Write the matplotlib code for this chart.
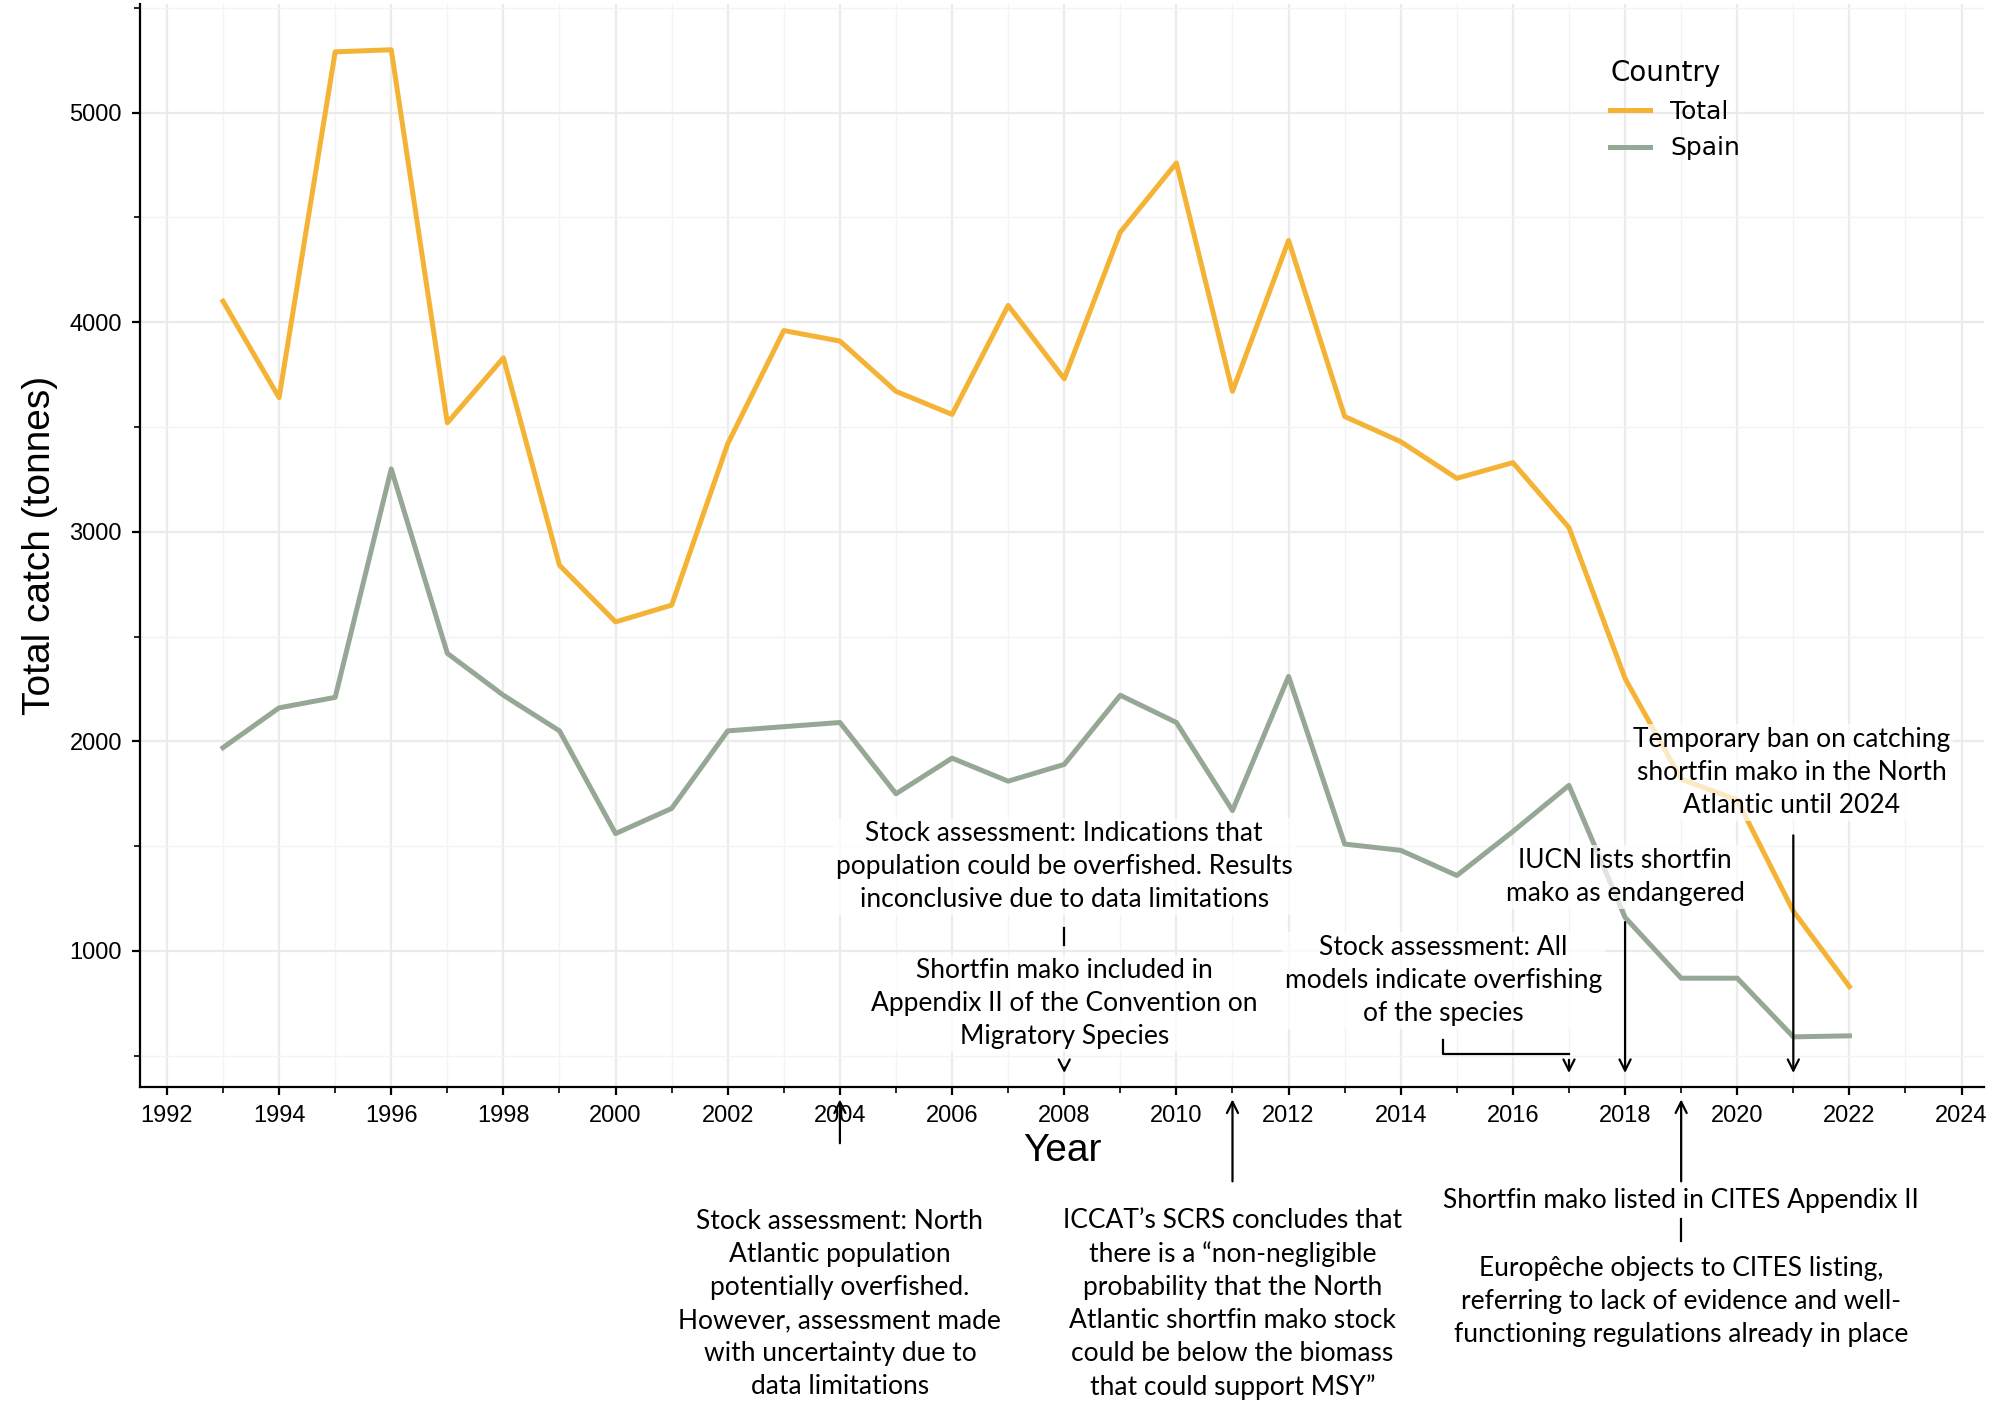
import numpy as np
import matplotlib.pyplot as plt
from matplotlib.ticker import MultipleLocator

#%% -- data --
years = list(range(1993, 2023))
total = [4100, 3640, 5290, 5300, 3520, 3830, 2840, 2570, 2650, 3420,
         3960, 3910, 3670, 3560, 4080, 3730, 4430, 4760, 3670, 4390,
         3550, 3430, 3255, 3330, 3020, 2300, 1820, 1720, 1190, 830]
spain = [1970, 2160, 2210, 3300, 2420, 2220, 2050, 1560, 1680, 2050,
         2070, 2090, 1750, 1920, 1810, 1890, 2220, 2090, 1670, 2310,
         1510, 1480, 1360, 1570, 1790, 1160, 870, 870, 590, 595]

c_total = '#F5B335'
c_spain = '#97A796'
afont = 'Lato'

#%% -- plot --
fig = plt.figure(figsize=(10, 7.135), dpi=200)
ax = fig.add_axes([0.070, 0.238, 0.922, 0.759])
ax.plot(years, total, color=c_total, lw=1.8, label='Total', zorder=3)
ax.plot(years, spain, color=c_spain, lw=1.8, label='Spain', zorder=3)

ax.set_xlim(1991.52, 2024.4)
ax.set_ylim(349, 5517)
ax.xaxis.set_major_locator(MultipleLocator(2))
ax.xaxis.set_minor_locator(MultipleLocator(1))
ax.yaxis.set_major_locator(MultipleLocator(1000))
ax.yaxis.set_minor_locator(MultipleLocator(500))
ax.grid(which='major', color='#EBEBEB', lw=0.8)
ax.grid(which='minor', color='#F3F3F3', lw=0.5)
ax.set_axisbelow(True)
for s in ['top', 'right']:
    ax.spines[s].set_visible(False)
for s in ['left', 'bottom']:
    ax.spines[s].set_linewidth(0.8)
ax.tick_params(labelsize=8.5, length=3)
for lab in ax.get_xticklabels() + ax.get_yticklabels():
    lab.set_fontfamily('Liberation Sans')
ax.set_xlabel('Year', fontsize=14, family='Liberation Sans', labelpad=2)
ax.set_ylabel('Total catch (tonnes)', fontsize=14, family='Liberation Sans', labelpad=4)

leg = ax.legend(title='Country', loc='upper right', bbox_to_anchor=(0.88, 0.97),
                frameon=False, fontsize=9, title_fontsize=10, handlelength=1.6)
leg._legend_box.align = 'left'

tkw = dict(ha='center', va='center', fontsize=9.5, family=afont, linespacing=1.4,
           annotation_clip=False, zorder=5)
box = dict(facecolor='white', edgecolor='none', alpha=0.7, pad=1)

# inside annotations
ax.text(2008, 1402, 'Stock assessment: Indications that\npopulation could be overfished. Results\ninconclusive due to data limitations',
        ha='center', va='center', fontsize=9.5, family=afont, linespacing=1.4, bbox=box, zorder=5)
ax.plot([2008, 2008], [1110, 1030], color='black', lw=0.8, zorder=5)
ax.text(2008, 750, 'Shortfin mako included in\nAppendix II of the Convention on\nMigratory Species',
        ha='center', va='center', fontsize=9.5, family=afont, linespacing=1.4, bbox=box, zorder=5)
ax.annotate('', xy=(2008, 391), xytext=(2008, 470), annotation_clip=False,
            arrowprops=dict(arrowstyle='->', lw=0.8, color='black'))

ax.text(2014.76, 860, 'Stock assessment: All\nmodels indicate overfishing\nof the species',
        ha='center', va='center', fontsize=9.5, family=afont, linespacing=1.4, bbox=box, zorder=5)
ax.plot([2014.76, 2014.76, 2017], [574, 507, 507], color='black', lw=0.8, zorder=5)
ax.annotate('', xy=(2017, 391), xytext=(2017, 507), annotation_clip=False,
            arrowprops=dict(arrowstyle='->', lw=0.8, color='black'))

ax.text(2018, 1353, 'IUCN lists shortfin\nmako as endangered',
        ha='center', va='center', fontsize=9.5, family=afont, linespacing=1.4, bbox=box, zorder=5)
ax.annotate('', xy=(2018, 391), xytext=(2018, 1164), annotation_clip=False,
            arrowprops=dict(arrowstyle='->', lw=0.8, color='black'))

ax.text(2020.97, 1852, 'Temporary ban on catching\nshortfin mako in the North\nAtlantic until 2024',
        ha='center', va='center', fontsize=9.5, family=afont, linespacing=1.4, bbox=box, zorder=5)
ax.annotate('', xy=(2021, 391), xytext=(2021, 1578), annotation_clip=False,
            arrowprops=dict(arrowstyle='->', lw=0.8, color='black'))

# below-axis annotations
ax.annotate('', xy=(2004, 318), xytext=(2004, 56), annotation_clip=False,
            arrowprops=dict(arrowstyle='->', lw=0.8, color='black'))
ax.text(2004, -686, 'Stock assessment: North\nAtlantic population\npotentially overfished.\nHowever, assessment made\nwith uncertainty due to\ndata limitations',
        ha='center', va='center', fontsize=9.5, family=afont, linespacing=1.4, clip_on=False)

ax.annotate('', xy=(2011, 318), xytext=(2011, -126), annotation_clip=False,
            arrowprops=dict(arrowstyle='->', lw=0.8, color='black'))
ax.text(2011, -686, 'ICCAT\u2019s SCRS concludes that\nthere is a \u201cnon-negligible\nprobability that the North\nAtlantic shortfin mako stock\ncould be below the biomass\nthat could support MSY\u201d',
        ha='center', va='center', fontsize=9.5, family=afont, linespacing=1.4, clip_on=False)

ax.annotate('', xy=(2019, 318), xytext=(2019, -126), annotation_clip=False,
            arrowprops=dict(arrowstyle='->', lw=0.8, color='black'))
ax.text(2019, -193, 'Shortfin mako listed in CITES Appendix II',
        ha='center', va='center', fontsize=9.5, family=afont, clip_on=False)
ax.plot([2019, 2019], [-279, -382], color='black', lw=0.8, clip_on=False)
ax.text(2019, -674, 'Europ\u00eache objects to CITES listing,\nreferring to lack of evidence and well-\nfunctioning regulations already in place',
        ha='center', va='center', fontsize=9.5, family=afont, linespacing=1.4, clip_on=False)

plt.savefig('out.png', dpi=200)
